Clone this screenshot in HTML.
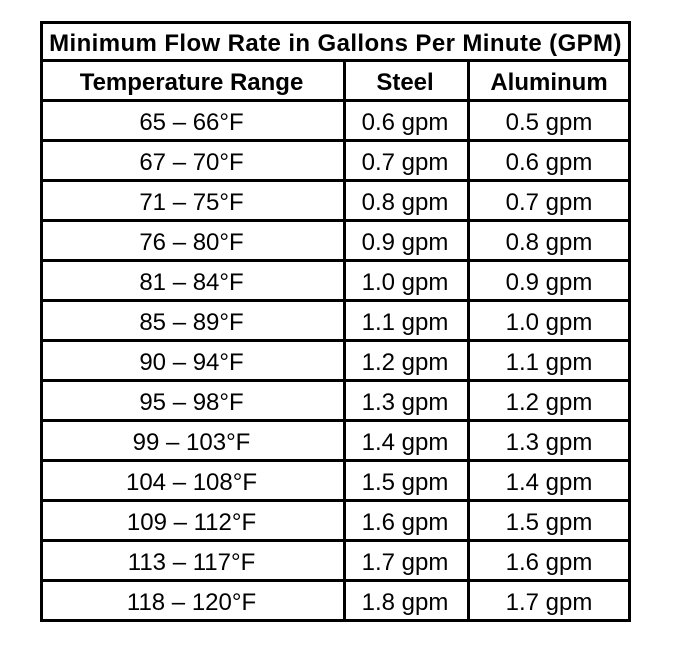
<!DOCTYPE html>
<html><head><meta charset="utf-8"><style>
body{margin:0;background:#fff;width:688px;height:654px;position:relative;font-family:"Liberation Sans",Arial,sans-serif;color:#000}
.c{position:absolute;display:flex;align-items:center;justify-content:center;font-size:24px;white-space:nowrap;padding-top:4px;box-sizing:border-box}
.b{font-weight:bold}
.h{position:absolute;background:#000;height:3px}
.v{position:absolute;background:#000;width:3px}
</style></head><body>
<div id="t"></div>
<script>
const ranges=["65 – 66°F","67 – 70°F","71 – 75°F","76 – 80°F","81 – 84°F","85 – 89°F","90 – 94°F","95 – 98°F","99 – 103°F","104 – 108°F","109 – 112°F","113 – 117°F","118 – 120°F"];
const steel=["0.6 gpm","0.7 gpm","0.8 gpm","0.9 gpm","1.0 gpm","1.1 gpm","1.2 gpm","1.3 gpm","1.4 gpm","1.5 gpm","1.6 gpm","1.7 gpm","1.8 gpm"];
const alum=["0.5 gpm","0.6 gpm","0.7 gpm","0.8 gpm","0.9 gpm","1.0 gpm","1.1 gpm","1.2 gpm","1.3 gpm","1.4 gpm","1.5 gpm","1.6 gpm","1.7 gpm"];
const t=document.getElementById('t');
const L=40,R=631,T=21,colX=[40,343,467,631];
function cell(x1,x2,y1,y2,txt,cls,name){const d=document.createElement('div');d.className='c '+cls;d.style.left=x1+'px';d.style.width=(x2-x1)+'px';d.style.top=y1+'px';d.style.height=(y2-y1)+'px';d.textContent=txt;


t.appendChild(d);return d;}
function hl(y,x1,x2){const d=document.createElement('div');d.className='h';d.style.left=x1+'px';d.style.width=(x2-x1)+'px';d.style.top=y+'px';


t.appendChild(d);}
function vl(x,y1,y2){const d=document.createElement('div');d.className='v';d.style.left=x+'px';d.style.top=y1+'px';d.style.height=(y2-y1)+'px';


t.appendChild(d);}
const ti=cell(L,R,T+2,60,"Minimum Flow Rate in Gallons Per Minute (GPM)","b","table-title");
ti.style.letterSpacing='0.4px';
cell(colX[0],colX[1],61,100,"Temperature Range","b","header-temperature-range");
cell(colX[1],colX[2],61,100,"Steel","b","header-steel");
cell(colX[2],colX[3],61,100,"Aluminum","b","header-aluminum");
for(let i=0;i<ranges.length;i++){const y1=100+i*40+1,y2=y1+39;
cell(colX[0],colX[1],y1,y2,ranges[i],"","temperature-range-cell");
cell(colX[1],colX[2],y1,y2,steel[i],"","steel-cell");
cell(colX[2],colX[3],y1,y2,alum[i],"","aluminum-cell");}
hl(T,L,R);hl(59,L,R);
for(let i=0;i<=ranges.length;i++)hl(99+i*40,L,R);
vl(L,T,622);vl(R-3,T,622);vl(colX[1],60,620);vl(colX[2],60,620);
</script>
</body></html>
